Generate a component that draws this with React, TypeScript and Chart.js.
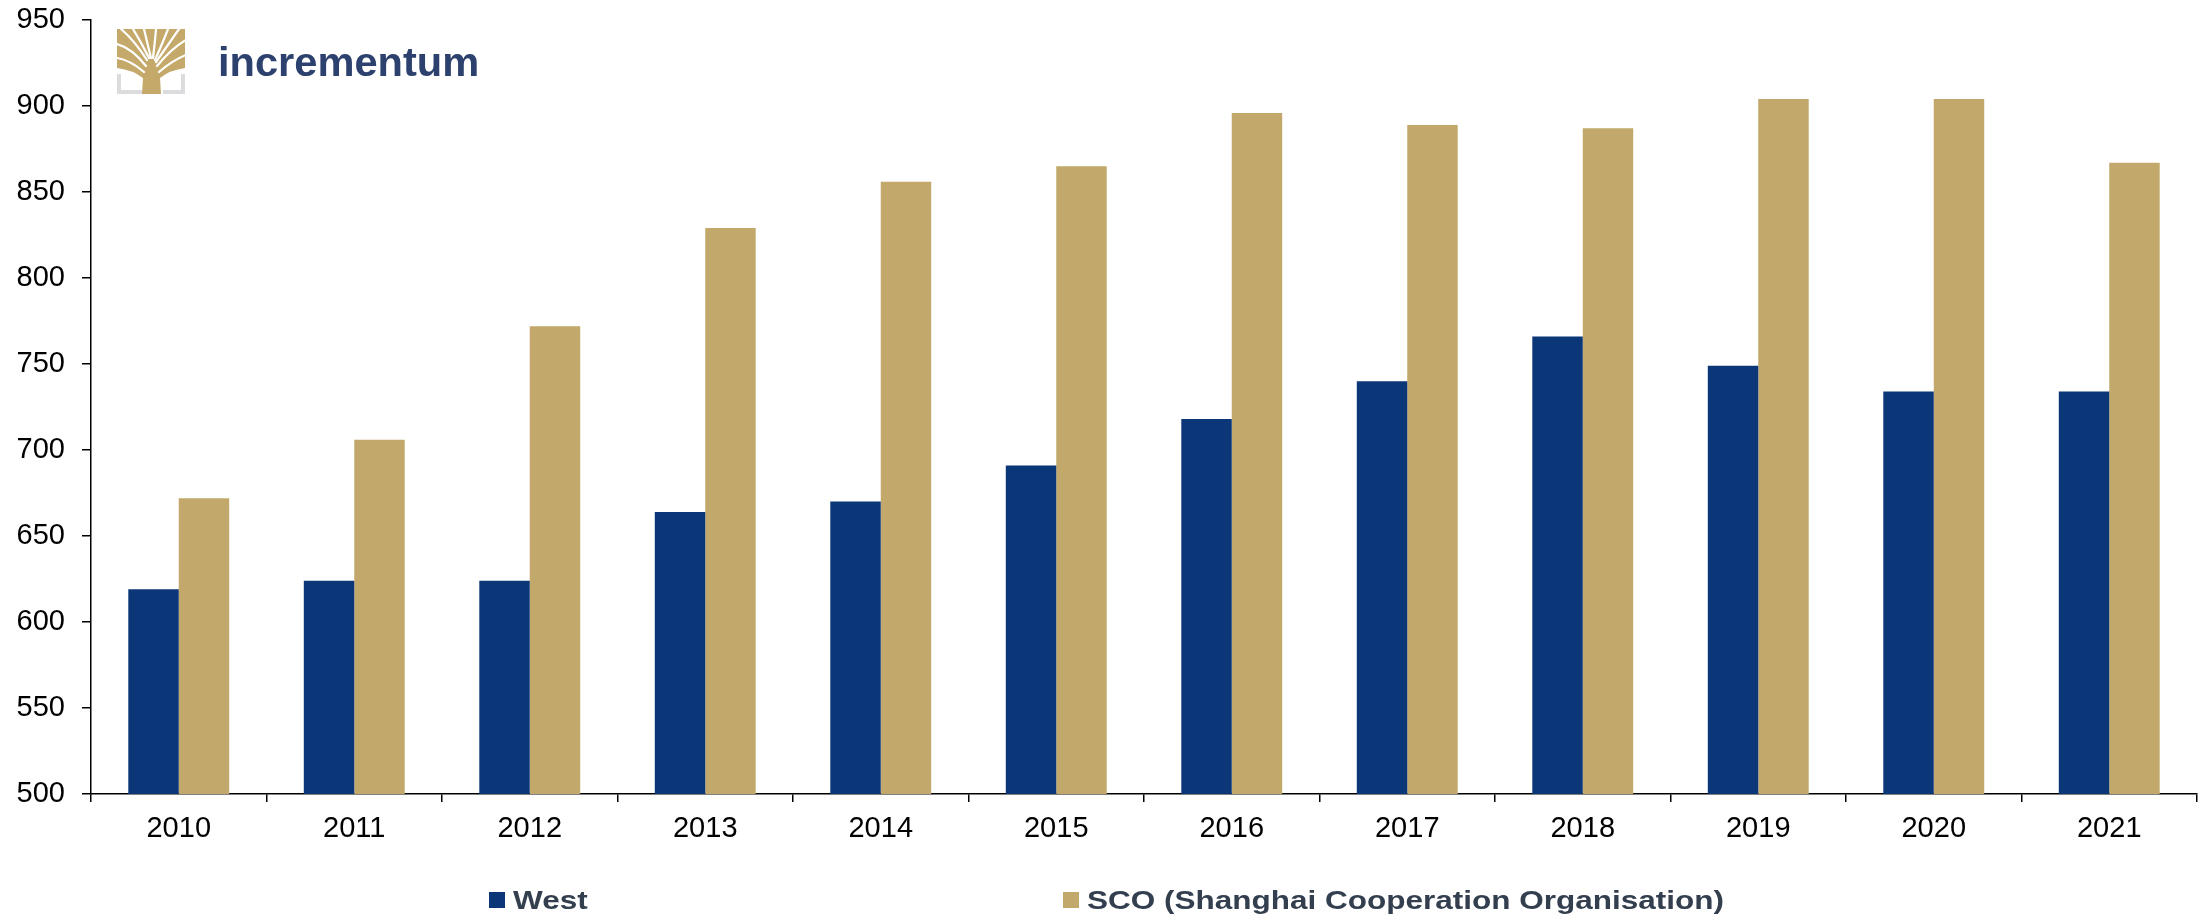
import React, { useEffect, useRef } from "react";
import { Chart, registerables } from "chart.js";

Chart.register(...registerables);

const categories = ["2010", "2011", "2012", "2013", "2014", "2015", "2016", "2017", "2018", "2019", "2020", "2021"];
const westValues = [619, 624, 624, 664, 670, 691, 718, 740, 766, 749, 734, 734];
const scoValues = [672, 706, 772, 829, 856, 865, 896, 889, 887, 904, 904, 867];
const seriesLabels = ["West", "SCO (Shanghai Cooperation Organisation)"];
const seriesColors = ["#0b3677", "#c2a86b"];

const FONT = "'Liberation Sans', Arial, Helvetica, sans-serif";

const overlayPlugin = {
  id: "overlay",
  afterDraw(chart: any) {
    const ctx = chart.ctx as CanvasRenderingContext2D;
    // Legend
    const legendPos = [
      { box: 489, text: 513 },
      { box: 1063, text: 1087 },
    ];
    chart.data.datasets.forEach((ds: any, i: number) => {
      const p = legendPos[i];
      ctx.save();
      ctx.fillStyle = ds.backgroundColor;
      ctx.fillRect(p.box, 892, 16, 16);
      ctx.translate(p.text, 909);
      ctx.scale(1.26, 1);
      ctx.font = `bold 25px ${FONT}`;
      ctx.fillStyle = "#333f4f";
      ctx.textBaseline = "alphabetic";
      ctx.textAlign = "left";
      ctx.fillText(ds.label, 0, 0);
      ctx.restore();
    });

    // Logo text
    ctx.save();
    ctx.translate(218, 76);
    ctx.scale(1.04, 1);
    ctx.font = `bold 40px ${FONT}`;
    ctx.fillStyle = "#2d416e";
    ctx.textBaseline = "alphabetic";
    ctx.fillText("incrementum", 0, 0);
    ctx.restore();

    // Logo icon
    ctx.save();
    const gold = "#c4a96a";
    const gray = "#dcdcdf";
    ctx.fillStyle = gray;
    ctx.fillRect(117, 74, 4, 20);
    ctx.fillRect(117, 90, 25, 4);
    ctx.fillRect(181, 74, 4, 20);
    ctx.fillRect(163, 90, 22, 4);
    ctx.beginPath();
    ctx.rect(117, 29, 68, 66);
    ctx.clip();
    ctx.fillStyle = gold;
    ctx.beginPath();
    ctx.moveTo(142, 94);
    ctx.lineTo(161, 94);
    ctx.lineTo(160, 78);
    ctx.quadraticCurveTo(170, 70, 185, 68);
    ctx.lineTo(185, 29);
    ctx.lineTo(117, 29);
    ctx.lineTo(117, 68);
    ctx.quadraticCurveTo(133, 70, 143, 78);
    ctx.closePath();
    ctx.fill();
    ctx.strokeStyle = "#ffffff";
    ctx.lineWidth = 2.2;
    ctx.lineCap = "round";
    const gaps: [number, number, number, number, number, number][] = [
      [144, 72, 130, 60, 117, 58],
      [146, 66, 132, 48, 117, 44],
      [147, 60, 134, 40, 121, 29],
      [149, 58, 141, 42, 133, 29],
      [151, 58, 147, 42, 144, 29],
      [153, 58, 155, 42, 156, 29],
      [155, 60, 163, 42, 168, 29],
      [156, 62, 170, 42, 179, 29],
      [157, 66, 172, 48, 186, 40],
      [159, 72, 173, 60, 186, 55],
    ];
    gaps.forEach((g) => {
      ctx.beginPath();
      ctx.moveTo(g[0], g[1]);
      ctx.quadraticCurveTo(g[2], g[3], g[4], g[5]);
      ctx.stroke();
    });
    ctx.restore();
  },
};

export default function App() {
  const canvasRef = useRef<HTMLCanvasElement | null>(null);

  useEffect(() => {
    document.body.style.margin = "0";
    const canvas = canvasRef.current;
    if (!canvas) return;
    const tickFont = { family: FONT, size: 29 };
    const chart = new Chart(canvas, {
      type: "bar",
      data: {
        labels: categories,
        datasets: [
          {
            label: seriesLabels[0],
            data: westValues,
            backgroundColor: seriesColors[0],
            categoryPercentage: 0.575,
            barPercentage: 1.0,
          },
          {
            label: seriesLabels[1],
            data: scoValues,
            backgroundColor: seriesColors[1],
            categoryPercentage: 0.575,
            barPercentage: 1.0,
          },
        ],
      },
      options: {
        responsive: false,
        animation: false,
        devicePixelRatio: 1,
        layout: { padding: { left: 0, right: 11, top: 20, bottom: 64 } },
        plugins: {
          legend: { display: false },
          tooltip: { enabled: false },
        },
        scales: {
          x: {
            grid: {
              display: true,
              drawOnChartArea: false,
              offset: true,
              tickLength: 8,
              color: "#000",
              lineWidth: 1.5,
            },
            border: { display: true, color: "#000", width: 1.5 },
            ticks: { font: tickFont, color: "#000", padding: 10, maxRotation: 0, autoSkip: false },
            afterFit: (s: any) => {
              s.height = 60;
            },
          },
          y: {
            min: 500,
            max: 950,
            grid: {
              display: true,
              drawOnChartArea: false,
              tickLength: 9,
              color: "#000",
              lineWidth: 1.5,
            },
            border: { display: true, color: "#000", width: 1.5 },
            ticks: { stepSize: 50, font: tickFont, color: "#000", padding: 17 },
            afterFit: (s: any) => {
              s.width = 91;
              s.paddingTop = 0;
              s.paddingBottom = 0;
            },
          },
        },
      },
      plugins: [overlayPlugin],
    });
    return () => chart.destroy();
  }, []);

  return (
    <div style={{ width: 2208, height: 918, background: "#fff" }}>
      <canvas ref={canvasRef} width={2208} height={918} style={{ display: "block" }} />
    </div>
  );
}
